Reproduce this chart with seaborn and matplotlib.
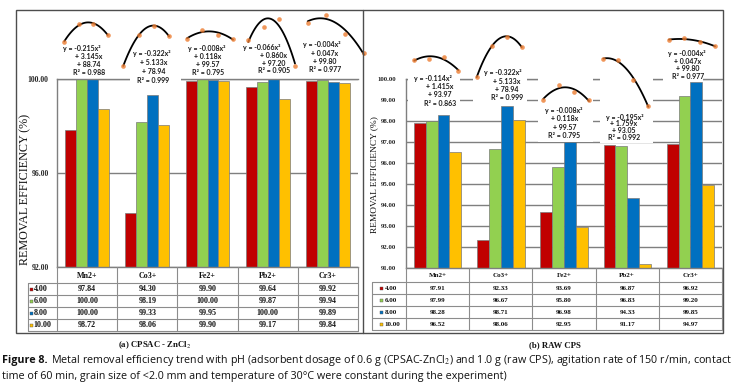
import numpy as np
import pandas as pd
import matplotlib
matplotlib.use("Agg")
import matplotlib.pyplot as plt
from matplotlib.patches import Rectangle
import seaborn as sns

# ---------------- data ----------------
metals = ["Mn2+", "Co3+", "Fe2+", "Pb2+", "Cr3+"]
ph_labels = ["4.00", "6.00", "8.00", "10.00"]
ph_values = [4, 6, 8, 10]
colors = ["#C00000", "#92D050", "#0070C0", "#FFC000"]

# (a) CPSAC - ZnCl2
a_ph4 = [97.84, 94.30, 99.90, 99.64, 99.92]
a_ph6 = [100.00, 98.19, 100.00, 99.87, 99.94]
a_ph8 = [100.00, 99.33, 99.95, 100.00, 99.89]
a_ph10 = [98.72, 98.06, 99.90, 99.17, 99.84]
# (b) RAW CPS
b_ph4 = [97.91, 92.33, 93.69, 96.87, 96.92]
b_ph6 = [97.99, 96.67, 95.80, 96.83, 99.20]
b_ph8 = [98.28, 98.71, 96.98, 94.33, 99.85]
b_ph10 = [96.52, 98.06, 92.95, 91.17, 94.97]

a_ticks = [92, 96, 100]
b_ticks = [91, 92, 93, 94, 95, 96, 97, 98, 99, 100]

# trend-line insets: which panel's data each inset shows (as in the figure)
a_trend_src = ["a", "a", "a", "a", "a"]
b_trend_src = ["b", "a", "a", "b", "a"]

a_eq = [["y = -0.215x²", "+ 3.145x", "+ 88.74", "R² = 0.988"],
        ["y = -0.322x²", "+ 5.133x", "+ 78.94", "R² = 0.999"],
        ["y = -0.008x²", "+ 0.118x", "+ 99.57", "R² = 0.795"],
        ["y = -0.066x²", "+ 0.860x", "+ 97.20", "R² = 0.905"],
        ["y = -0.004x²", "+ 0.047x", "+ 99.80", "R² = 0.977"]]
b_eq = [["y = -0.114x²", "+ 1.415x", "+ 93.97", "R² = 0.863"],
        ["y = -0.322x²", "+ 5.133x", "+ 78.94", "R² = 0.999"],
        ["y = -0.008x²", "+ 0.118x", "+ 99.57", "R² = 0.795"],
        ["y = -0.195x²", "+ 1.759x", "+ 93.05", "R² = 0.992"],
        ["y = -0.004x²", "+ 0.047x", "+ 99.80", "R² = 0.977"]]

ylabel = "REMOVAL EFFICIENCY (%)"
sub_a = "(a) CPSAC - ZnCl$_2$"
sub_b = "(b) RAW CPS"
cap_bold = "Figure 8."
cap_1 = ("Metal removal efficiency trend with pH (adsorbent dosage of 0.6 g (CPSAC-ZnCl$_2$) "
         "and 1.0 g (raw CPS), agitation rate of 150 r/min, contact")
cap_2 = ("time of 60 min, grain size of <2.0 mm and temperature of 30°C were constant "
         "during the experiment)")

# ---------------- layout ----------------
sns.set_style("white")
plt.rcParams["mathtext.fontset"] = "stix"
SERIF = ["Liberation Serif", "DejaVu Serif"]
SANS = ["Lato", "DejaVu Sans"]
CAPF = ["Liberation Sans Narrow", "Open Sans", "DejaVu Sans"]
GRID = "#7f7f7f"
LINE = "#8c8c8c"

W, H = 743, 387
fig = plt.figure(figsize=(W / 100, H / 100), dpi=100)
fig.patch.set_facecolor("white")


def box(x0, y0, x1, y1):
    return [x0 / W, 1 - y1 / H, (x1 - x0) / W, (y1 - y0) / H]


def long_df(cols):
    rows = []
    for lab, vals in zip(ph_labels, cols):
        for m, v in zip(metals, vals):
            rows.append((m, lab, v))
    return pd.DataFrame(rows, columns=["metal", "pH", "value"])


panels = {
    "a": dict(cols=[a_ph4, a_ph6, a_ph8, a_ph10], ticks=a_ticks, lim=(92, 100),
              ax=(57, 79, 358, 267), width=0.73, tickfs=5.6, tlen=4,
              ylab_xy=(25, 189), ylab_len=152),
    "b": dict(cols=[b_ph4, b_ph6, b_ph8, b_ph10], ticks=b_ticks, lim=(91, 100),
              ax=(406, 79, 722, 268), width=0.75, tickfs=4.9, tlen=5,
              ylab_xy=(374, 175), ylab_len=117),
}

renderer = fig.canvas.get_renderer()
axes = {}
for key, p in panels.items():
    ax = fig.add_axes(box(*p["ax"]))
    df = long_df(p["cols"])
    sns.barplot(data=df, x="metal", y="value", hue="pH", order=metals,
                hue_order=ph_labels, palette=colors, saturation=1,
                width=p["width"], errorbar=None, edgecolor="#7a7a7a",
                linewidth=0.5, legend=False, ax=ax, zorder=2)
    ax.set_ylim(*p["lim"])
    ax.set_xlim(-0.5, len(metals) - 0.5)
    ax.set_yticks(p["ticks"])
    ax.set_yticklabels([f"{t:.2f}" for t in p["ticks"]])
    for lbl in ax.get_yticklabels():
        lbl.set_fontfamily(SERIF)
        lbl.set_fontweight("bold")
        lbl.set_fontsize(p["tickfs"])
    ax.set_xticks([])
    ax.set_xlabel("")
    ax.set_ylabel("")
    ax.yaxis.grid(True, color=GRID, lw=1.0)
    ax.set_axisbelow(True)
    ax.tick_params(axis="y", length=p["tlen"], width=0.8, color=GRID, pad=2)
    for s in ["left", "bottom", "top"]:
        ax.spines[s].set_visible(True)
        ax.spines[s].set_color(GRID)
        ax.spines[s].set_linewidth(1.0)
    ax.spines["right"].set_visible(False)
    axes[key] = ax

# ---------------- trend insets ----------------
# (rect x0, x1, y0, y1), (first/last point x), (pixel y of max, of min), text (cx1, cx2, ytop, ybottom)
a_insets = [((62, 112, 15, 77), (64.3, 107.7), (24.3, 41.7), (81.7, 89.0, 49.0, 72.3)),
            ((130, 181, 18, 86), (123.3, 169.0), (26.0, 66.0), (152.0, 153.5, 53.3, 80.7)),
            ((184, 238, 18, 77), (187.0, 233.0), (30.0, 39.0), (206.7, 208.0, 48.3, 72.3)),
            ((242, 300, 12, 77), (248.3, 295.0), (19.3, 66.0), (262.0, 274.0, 47.7, 70.7)),
            ((302, 358, 10, 77), (307.7, 364.0), (15.0, 53.3), (321.7, 325.0, 45.0, 69.0))]
b_insets = [((408, 460, 45, 109), (414.3, 458.3), (56.7, 71.0), (433.0, 440.0, 78.3, 103.3)),
            ((473, 527, 28, 102), (476.7, 521.7), (36.7, 77.3), (503.0, 507.0, 72.7, 97.7)),
            ((538, 593, 75, 142), (543.3, 589.0), (85.0, 100.0), (563.3, 564.5, 110.0, 136.0)),
            ((600, 653, 52, 143), (603.3, 648.3), (59.3, 106.0), (625.0, 624.0, 117.3, 137.3)),
            ((663, 703, 30, 81), (669.0, 715.0), (38.3, 46.0), (686.7, 688.0, 53.3, 76.7))]

src_cols = {"a": [a_ph4, a_ph6, a_ph8, a_ph10], "b": [b_ph4, b_ph6, b_ph8, b_ph10]}
inset_sets = [(a_insets, a_trend_src), (b_insets, b_trend_src)]
for insets, srcs in inset_sets:
    for i, (rect, pxs, pys, _) in enumerate(insets):
        vals = [c[i] for c in src_cols[srcs[i]]]
        x0, x1, y0, y1 = rect
        iax = fig.add_axes(box(x0, y0, x1, y1))
        iax.set_facecolor("white")
        for s in iax.spines.values():
            s.set_visible(False)
        sns.regplot(x=np.array(ph_values, float), y=np.array(vals), order=2, ci=None,
                    ax=iax, color="black",
                    scatter_kws=dict(s=11, color="#ED7D31", zorder=3, clip_on=False,
                                     linewidths=0),
                    line_kws=dict(lw=1.3, color="black", zorder=2, clip_on=False))
        sx = (ph_values[-1] - ph_values[0]) / (pxs[1] - pxs[0])
        iax.set_xlim(ph_values[0] - (pxs[0] - x0) * sx, ph_values[-1] + (x1 - pxs[1]) * sx)
        vmax, vmin = max(vals), min(vals)
        sy = (vmax - vmin) / (pys[1] - pys[0])
        iax.set_ylim(vmin - (y1 - pys[1]) * sy, vmax + (pys[0] - y0) * sy)
        iax.set_xticks([])
        iax.set_yticks([])
        iax.set_xlabel("")
        iax.set_ylabel("")

# ---------------- overlay: texts, tables, frames ----------------
top = fig.add_axes([0, 0, 1, 1], facecolor="none")
top.set_xlim(0, W)
top.set_ylim(H, 0)
top.axis("off")

for insets, eqs in [(a_insets, a_eq), (b_insets, b_eq)]:
    for (rect, pxs, pys, (cx1, cx2, ya, yb)), eq in zip(insets, eqs):
        for k, line in enumerate(eq):
            top.text(cx1 if k == 0 else cx2, ya + k * (yb - ya) / 3, line,
                     ha="center", va="center", fontsize=5.0, family=SANS,
                     weight="bold", color="#1a1a1a")

# y labels (fitted to the measured length)
for key, p in panels.items():
    t = top.text(*p["ylab_xy"], ylabel, rotation=90, ha="center", va="center",
                 family=SERIF, fontsize=8, color="#111111")
    h = t.get_window_extent(renderer).height
    t.set_fontsize(8 * p["ylab_len"] / h)

# data tables
tables = [
    dict(cols=src_cols["a"], axp=panels["a"]["ax"], xleg=28,
         ys=[267, 283, 295, 307, 319, 331], fs=5.8, keyx=29.5, textx=33.8),
    dict(cols=src_cols["b"], axp=panels["b"]["ax"], xleg=372,
         ys=[268, 282, 294, 306, 318, 330], fs=5.0, keyx=379.5, textx=384.8),
]
for tb in tables:
    ax0, _, ax1, _ = tb["axp"]
    edges = np.linspace(ax0, ax1, len(metals) + 1)
    ys = tb["ys"]
    for yy in ys[1:]:
        top.plot([tb["xleg"], edges[-1]], [yy, yy], color=LINE, lw=0.8)
    top.plot([tb["xleg"], tb["xleg"]], [ys[1], ys[-1]], color=LINE, lw=0.8)
    for xx in edges:
        top.plot([xx, xx], [ys[0], ys[-1]], color=LINE, lw=0.8)
    centers = (edges[:-1] + edges[1:]) / 2
    for cx, m in zip(centers, metals):
        top.text(cx, (ys[0] + ys[1]) / 2 + 0.5, m, ha="center", va="center",
                 family=SERIF, weight="bold", fontsize=tb["fs"], color="#111111")
    for r, (lab, col, c) in enumerate(zip(ph_labels, tb["cols"], colors)):
        yc = (ys[r + 1] + ys[r + 2]) / 2 + 0.3
        top.add_patch(Rectangle((tb["keyx"], yc - 1.7), 3.4, 3.4, facecolor=c,
                                edgecolor="#555555", lw=0.3))
        top.text(tb["textx"], yc, lab, ha="left", va="center", family=SERIF,
                 weight="bold", fontsize=tb["fs"], color="#111111")
        for cx, v in zip(centers, col):
            top.text(cx, yc, f"{v:.2f}", ha="center", va="center", family=SERIF,
                     weight="bold", fontsize=tb["fs"], color="#111111")

# panel frames
top.add_patch(Rectangle((16, 10), 707, 323, fill=False, edgecolor="#4d4d4d", lw=1.0))
top.plot([363, 363], [10, 333], color="#4d4d4d", lw=1.0)

# sub captions
top.text(155, 345, sub_a, ha="center", va="center", family=SERIF, weight="bold",
         fontsize=6.3, color="#111111")
top.text(555, 345, sub_b, ha="center", va="center", family=SERIF, weight="bold",
         fontsize=6.3, color="#111111")

# figure caption (fitted to measured widths)
fs = 7.5
tb_ = top.text(2, 360, cap_bold, ha="left", va="center", family=CAPF, weight="bold",
               fontsize=fs, color="#111111")
t1 = top.text(0, 360, cap_1, ha="left", va="center", family=CAPF, fontsize=fs,
              color="#111111")
t2 = top.text(2, 377, cap_2, ha="left", va="center", family=CAPF, fontsize=fs,
              color="#111111")
for _ in range(3):
    wb = tb_.get_window_extent(renderer).width
    w1 = t1.get_window_extent(renderer).width
    total = wb + 3 + w1
    fs = fs * 733 / total
    for t in (tb_, t1, t2):
        t.set_fontsize(fs)
    wb = tb_.get_window_extent(renderer).width
    t1.set_x(2 + wb + 3)

fig.savefig("out.png", dpi=100, facecolor="white")
